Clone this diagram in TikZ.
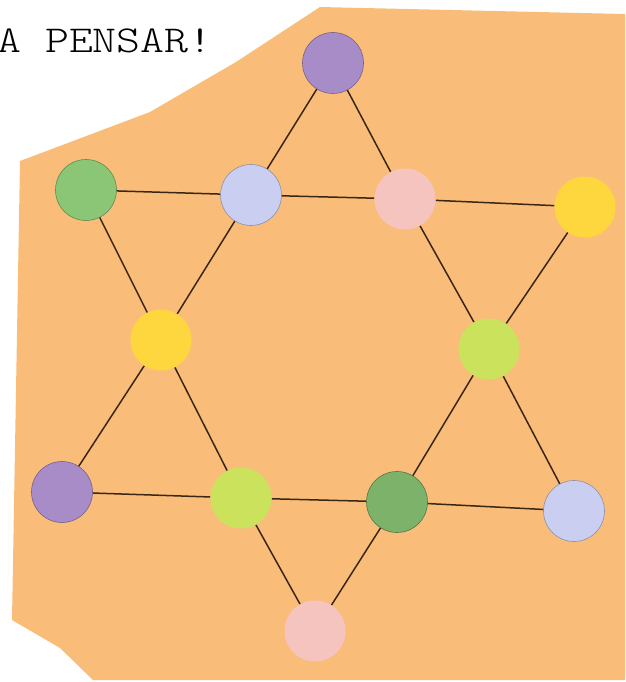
\documentclass[tikz,border=0pt]{standalone}
\usepackage{fontspec}
\newfontfamily\monofont[FakeStretch=1.2]{lmmonolt10-regular.otf}
\usepackage{xcolor}
\usepackage{tikz}

\definecolor{board}{RGB}{249,189,121}
\definecolor{violet}{RGB}{168,140,200}
\definecolor{leaf}{RGB}{138,198,118}
\definecolor{lilac}{RGB}{202,206,240}
\definecolor{blush}{RGB}{246,196,190}
\definecolor{sun}{RGB}{254,214,62}
\definecolor{lime}{RGB}{202,226,92}

\begin{document}
\begin{tikzpicture}[
    x=1pt, y=-1pt,
    dot/.style={circle, minimum size=61pt, inner sep=0pt, line width=0.6pt},
    rod/.style={line width=1.5pt, draw=black!70!brown}
]
\useasboundingbox (0,0) rectangle (625,682);

% board
\fill[board] (320,7) -- (625,14) -- (625,680) -- (93,680) -- (60,648)
  -- (12,620) -- (20,161) -- (150,112) -- (236,62) -- cycle;

% title
\node[anchor=base west, inner sep=0pt, font=\monofont\fontsize{38}{38}\selectfont] (title) at (-3,53) {A PENSAR!};

% pegs
\node[dot, fill=violet, draw=violet!70!black] (top) at (333,63) {};
\node[dot, fill=leaf, draw=leaf!70!black] (leafL) at (86,190) {};
\node[dot, fill=lilac, draw=lilac!70!black] (lilacT) at (251,195) {};
\node[dot, fill=blush] (blushT) at (405,199) {};
\node[dot, fill=sun] (sunR) at (585,207) {};
\node[dot, fill=sun] (sunL) at (161,340) {};
\node[dot, fill=lime] (limeR) at (489,349) {};
\node[dot, fill=violet, draw=violet!70!black] (violetB) at (62,492) {};
\node[dot, fill=lime] (limeB) at (241,498) {};
\node[dot, fill=leaf!90!black, draw=leaf!60!black] (leafB) at (397,502) {};
\node[dot, fill=lilac, draw=lilac!70!black] (lilacB) at (574,511) {};
\node[dot, fill=blush] (bottom) at (315,631) {};

% upward triangle
\draw[rod] (top) -- (lilacT);
\draw[rod] (lilacT) -- (sunL);
\draw[rod] (sunL) -- (violetB);
\draw[rod] (top) -- (blushT);
\draw[rod] (blushT) -- (limeR);
\draw[rod] (limeR) -- (lilacB);
\draw[rod] (violetB) -- (limeB);
\draw[rod] (limeB) -- (leafB);
\draw[rod] (leafB) -- (lilacB);

% downward triangle
\draw[rod] (leafL) -- (lilacT);
\draw[rod] (lilacT) -- (blushT);
\draw[rod] (blushT) -- (sunR);
\draw[rod] (leafL) -- (sunL);
\draw[rod] (sunL) -- (limeB);
\draw[rod] (limeB) -- (bottom);
\draw[rod] (sunR) -- (limeR);
\draw[rod] (limeR) -- (leafB);
\draw[rod] (leafB) -- (bottom);
\end{tikzpicture}
\end{document}
